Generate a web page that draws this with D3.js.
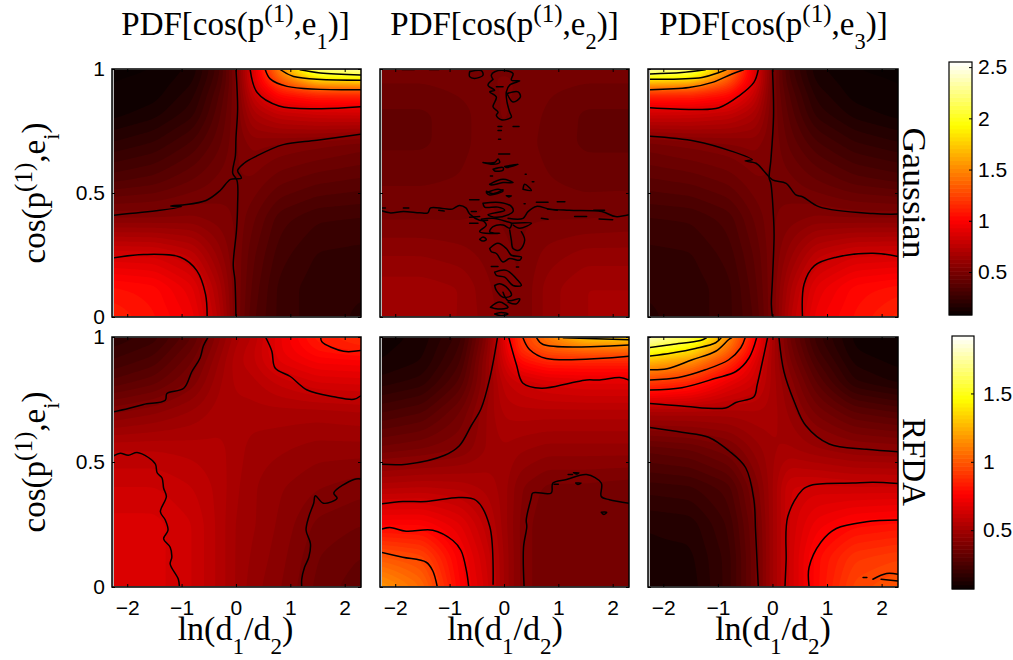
<!DOCTYPE html>
<html><head><meta charset="utf-8">
<script src="https://cdn.jsdelivr.net/npm/d3@7"></script>
<style>html,body{margin:0;padding:0;background:#fff}svg{display:block}</style>
</head><body><svg id="c" width="1013" height="660"></svg>
<script>
// ---- grid nodes of the estimated density fields
const xNodes = [-2.28,-1.5,-0.8,-0.3,0,0.3,0.8,1.5,2.3];
const yNodes = [0,0.12,0.25,0.4,0.55,0.7,0.82,0.9,0.95,1];
const xTicks = [-2,-1,0,1,2];
const yTicks = [0,0.5,1];
const topBarTicks = [0.5,1,1.5,2,2.5];
const bottomBarTicks = [0.5,1,1.5];
const topBarRange = [0.08,2.55];
const bottomBarRange = [0.07,1.92];
const columnSubscripts = ["1","2","3"];
const rowNames = ["Gaussian","RFDA"];

// ---- fields: one row per yNodes value, bottom to top
const fieldG1 = [
[1.12,1.05,.95,.72,.5,.36,.26,.21,.19],
[1.05,1.02,.9,.68,.5,.38,.26,.21,.2],
[.85,.84,.76,.6,.5,.4,.29,.23,.22],
[.54,.54,.55,.52,.5,.44,.33,.28,.27],
[.34,.37,.43,.48,.5,.5,.44,.4,.38],
[.2,.24,.32,.42,.5,.56,.54,.52,.49],
[.1,.14,.22,.38,.5,.68,.78,.82,.83],
[.08,.1,.18,.35,.5,.78,1.05,1.15,1.15],
[.08,.09,.15,.32,.5,.85,1.3,1.7,1.75],
[.07,.08,.13,.3,.52,.85,1.5,2.3,2.4]];
const fieldG2 = [
[.63,.63,.62,.56,.53,.5,.6,.66,.66],
[.64,.64,.62,.55,.52,.5,.6,.66,.66],
[.58,.58,.56,.53,.51,.5,.56,.6,.6],
[.5,.5,.5,.51,.5,.5,.5,.5,.51],
[.46,.46,.47,.5,.5,.5,.47,.45,.45],
[.42,.42,.45,.49,.5,.49,.45,.42,.42],
[.42,.42,.45,.49,.51,.49,.46,.42,.42],
[.45,.45,.47,.49,.51,.5,.47,.45,.45],
[.47,.47,.48,.5,.51,.5,.48,.47,.47],
[.48,.48,.49,.5,.5,.5,.49,.48,.48]];
const fieldG3 = [
[.19,.21,.26,.36,.5,.72,.95,1.05,1.14],
[.2,.21,.26,.38,.5,.68,.9,1.02,1.06],
[.22,.23,.29,.4,.5,.6,.76,.84,.85],
[.27,.28,.33,.44,.5,.52,.55,.54,.54],
[.38,.4,.44,.5,.5,.48,.43,.37,.34],
[.49,.52,.54,.56,.5,.42,.32,.24,.2],
[.83,.82,.78,.68,.5,.38,.22,.14,.1],
[1.15,1.15,1.05,.78,.5,.35,.18,.1,.08],
[1.75,1.7,1.3,.85,.5,.32,.15,.09,.08],
[2.4,2.3,1.5,.85,.52,.3,.13,.08,.07]];
const fieldR1 = [
[.65,.66,.62,.55,.5,.46,.42,.35,.31],
[.65,.66,.62,.55,.5,.47,.43,.36,.33],
[.66,.66,.62,.55,.5,.48,.44,.38,.36],
[.62,.62,.59,.55,.51,.48,.45,.42,.4],
[.56,.56,.55,.54,.52,.49,.48,.46,.46],
[.41,.44,.48,.52,.52,.52,.52,.52,.53],
[.28,.32,.4,.5,.54,.55,.6,.65,.66],
[.22,.26,.36,.48,.55,.58,.68,.74,.75],
[.19,.23,.33,.46,.54,.58,.7,.8,.84],
[.16,.2,.3,.44,.52,.56,.7,.84,.88]];
const fieldR2 = [
[1.18,1.05,.76,.63,.5,.41,.36,.36,.36],
[1.0,.95,.74,.61,.5,.41,.36,.36,.36],
[.76,.76,.68,.57,.49,.41,.36,.36,.36],
[.55,.56,.55,.52,.49,.42,.38,.38,.37],
[.37,.39,.42,.48,.5,.48,.46,.46,.46],
[.24,.27,.36,.48,.54,.55,.55,.55,.55],
[.14,.17,.28,.46,.58,.62,.66,.68,.68],
[.1,.13,.24,.46,.63,.78,.85,.85,.85],
[.09,.12,.22,.44,.66,.88,1.0,1.05,1.05],
[.08,.11,.2,.42,.68,.9,1.1,1.35,1.38]];
const fieldR3 = [
[.1,.11,.2,.36,.5,.62,.78,.95,1.0],
[.12,.12,.2,.36,.5,.62,.78,.9,.93],
[.13,.14,.22,.37,.5,.62,.72,.78,.8],
[.2,.21,.26,.4,.5,.62,.63,.62,.62],
[.31,.33,.38,.46,.5,.51,.48,.45,.44],
[.52,.52,.52,.53,.52,.47,.38,.3,.27],
[.93,.86,.7,.62,.52,.44,.3,.16,.12],
[1.25,1.15,.9,.66,.52,.4,.25,.12,.09],
[1.55,1.4,1.05,.72,.52,.38,.22,.1,.07],
[1.85,1.65,1.15,.75,.53,.36,.2,.09,.07]];

// ---- contour lines, as [ln(d1/d2), cos] pairs
const linesG1 = [
[[0,1],[.03,.84],[0,.72],[-.01,.65],[-.06,.58],[.02,.55],[.03,.45],[.01,.35],[-.05,.21],[-.02,.15],[0,0]],
[[-2.27,.41],[-1.4,.43],[-1,.445],[-1.2,.448],[-.98,.452],[-.55,.47],[-.29,.51],[-.1,.555],[.1,.56],[.03,.59],[.15,.62],[.37,.648],[.87,.695],[1.49,.713],[2.29,.737]],
[[-2.27,.238],[-1.7,.252],[-1.02,.241],[-.72,.187],[-.56,.092],[-.53,0]],
[[.26,1],[.39,.905],[.79,.851],[1.55,.84],[2.29,.848]],
[[.54,.997],[.63,.96],[.94,.93],[2.29,.916]],
[[.82,.997],[1.06,.97],[2.29,.955]],
[[1.18,.997],[1.55,.984],[2.29,.976]]];
const linesG2 = [
[[-2.27,.43],[-2.1,.42],[-1.85,.425],[-1.55,.42],[-1.4,.42],[-1.35,.44],[-1.1,.437],[-.95,.435],[-.82,.45],[-.7,.44],[-.63,.415],[-.45,.39],[-.3,.39]],
[[.075,.398],[.351,.398],[.443,.425],[.596,.446],[.842,.435],[1.2,.43],[1.8,.425],[2.05,.405],[2.3,.412]],
[[-2.25,.44],[-2.18,.44]],[[-1.85,.44],[-1.75,.44]],[[-1.2,.43],[-1.1,.427]],[[.98,.465],[1.12,.465]],[[.8,.435],[.98,.43]],[[1.65,.43],[1.85,.43]],[[1.3,.405],[1.52,.405]],[[1.75,.395],[2,.392]],
[[-1.87,.998],[-1.65,.998]],[[-1.37,.998],[-1.2,.998]],[[-.63,.998],[-.42,.998]],
// lower half of the central band
[[-.324,.507],[-.2,.497],[-.017,.513]],
[[.044,.489],[.136,.489],[.09,.484],[.044,.489]],
[[-.631,.473],[-.459,.473]],[[.596,.463],[.811,.463]],[[.37,.457],[.39,.457]],
[[-.386,.459],[-.079,.462],[.136,.446],[.167,.425],[.075,.412],[-.14,.402],[-.294,.412],[.013,.43],[-.11,.443],[-.355,.443],[-.386,.459]],
[[-.6,.425],[-.508,.425]],[[-.631,.402],[-.447,.405]],[[-.631,.378],[-.478,.378]],
[[-.416,.394],[-.201,.398],[.044,.385],[.136,.378],[.105,.358],[-.017,.371],[-.201,.364],[-.263,.344],[-.079,.337],[-.447,.344],[-.324,.371],[-.416,.394]],
[[.688,.398],[.81,.394]],
[[.136,.378],[.504,.378],[.289,.358],[.167,.371]],
[[.105,.351],[.136,.31],[.167,.276],[.289,.27],[.381,.31],[.32,.344]],
[[-.447,.313],[-.386,.323],[-.324,.313],[-.386,.306],[-.447,.313]],
[[-.263,.276],[-.11,.297],[.044,.276],[.136,.249],[.32,.242],[.289,.229],[.105,.236],[-.017,.222],[-.14,.256],[-.232,.263],[-.263,.276]],
[[-.232,.204],[-.11,.204]],[[.228,.202],[.27,.202]],
[[-.171,.181],[.044,.188],[.259,.147],[.32,.127],[.167,.127],[.013,.161],[-.14,.168],[-.171,.181]],
[[-.171,.127],[-.079,.134],[.075,.114],[.136,.087],[-.017,.08],[-.14,.107],[-.171,.127]],
[[-.017,.1],[.075,.066],[.29,.073],[.228,.053],[.075,.06]],
[[-.25,.039],[-.079,.06],[.075,.039],[-.11,.032],[-.25,.039]],
[[-.171,.012],[-.05,.018],[.075,.012],[-.05,.005],[-.171,.012]],
// upper half of the central band
[[-.631,.989],[-.416,.993],[-.386,.975],[-.539,.962],[-.631,.969],[-.631,.989]],
[[-.201,.958],[-.232,.975],[-.17,.989],[.044,.993],[.167,.982],[.136,.955],[.29,.952],[.105,.935],[.044,.908],[.056,.867],[.105,.826],[.136,.806],[-.048,.795],[-.14,.813],[-.109,.826],[-.201,.847],[-.14,.887],[-.263,.908],[-.171,.914],[-.294,.935],[-.201,.958]],
[[-.14,.928],[-.017,.928]],
[[.056,.901],[.259,.908],[.302,.887],[.167,.867],[.056,.901]],
[[-.11,.768],[-.04,.768]],[[.167,.768],[.277,.768]],[[-.11,.752],[-.048,.752]],[[-.1,.717],[-.06,.717]],[[-.097,.657],[.105,.657]],
[[-.386,.623],[-.171,.623],[-.109,.637],[-.079,.623],[-.2,.616],[-.386,.623]],
[[-.2,.596],[-.017,.603],[-.017,.592],[-.171,.589],[-.2,.596]],
[[.013,.607],[.259,.616],[.044,.603],[.013,.607]],
[[-.25,.569],[-.21,.569]],[[.39,.576],[.41,.576]],[[.52,.545],[.55,.545]],
[[-.263,.535],[-.017,.555],[.167,.542],[-.017,.542],[-.232,.532],[-.263,.535]],
[[.35,.515],[.381,.535],[.504,.51],[.35,.515]],
[[-.324,.501],[-.109,.515],[-.017,.508],[-.263,.492],[-.324,.501]]];
const linesG3 = [
[[0,1],[.02,.81],[-.03,.63],[-.06,.56],[-.03,.54],[.02,.4],[.03,.33],[0,.15],[-.02,.05],[0,0]],
[[-2.27,.729],[-1.41,.709],[-.74,.668],[-.37,.634],[-.5,.63],[-.3,.62],[-.15,.587],[0,.553],[.25,.539],[.43,.492],[.55,.485],[.86,.444],[1.84,.417],[2.3,.415]],
[[.55,0],[.58,.133],[.77,.207],[1.17,.241],[1.84,.257],[2.3,.244]],
[[-2.27,.844],[-1.41,.837],[-.98,.844],[-.61,.892],[-.34,.946],[-.26,.997]],
[[-2.27,.916],[-1.53,.925],[-1.1,.946],[-.74,.98],[-.53,.997]],
[[-2.27,.959],[-1.29,.966],[-.98,.986],[-.85,.997]],
[[-2.27,.98],[-1.66,.986],[-1.23,.997]]];
const linesR1 = [
[[-2.27,.7],[-1.98,.714],[-1.7,.73],[-1.3,.747],[-1.27,.774],[-.96,.795],[-.81,.862],[-.66,.916],[-.6,.964],[-.52,.997]],
[[-2.27,.522],[-2.13,.535],[-1.98,.527],[-1.82,.538],[-1.61,.518],[-1.48,.491],[-1.45,.457],[-1.36,.436],[-1.33,.395],[-1.28,.362],[-1.39,.301],[-1.3,.268],[-1.25,.227],[-1.33,.193],[-1.21,.159],[-1.18,.119],[-1.21,.092],[-1.06,.031],[-1.04,0]],
[[1.21,0],[1.21,.031],[1.26,.078],[1.34,.119],[1.37,.173],[1.29,.227],[1.34,.281],[1.43,.335],[1.46,.365],[1.61,.335],[1.86,.355],[1.8,.376],[2.17,.43],[2.29,.432]],
[[.55,.997],[.66,.943],[.72,.876],[1,.842],[1.31,.788],[1.8,.761],[2.17,.751],[2.29,.764]],
[[1.56,.997],[1.58,.981],[1.98,.943],[2.29,.946]]];
const linesR2 = [
[[-2.27,.491],[-1.79,.491],[-1.09,.527],[-.82,.565],[-.6,.646],[-.42,.714],[-.26,.835],[-.12,.997]],
[[-2.27,.332],[-1.86,.342],[-1.43,.342],[-.82,.358],[-.51,.346],[-.26,.241],[-.2,.011]],
[[-2.27,.23],[-2.1,.238],[-1.8,.223],[-1.31,.227],[-.94,.186],[-.79,.146],[-.69,.065],[-.65,.004]],
[[-2.27,.139],[-1.86,.119],[-1.43,.099],[-1.31,.065],[-1.23,.004]],
[[.37,.004],[.36,.159],[.42,.241],[.41,.268],[.5,.355],[.53,.376],[.87,.376],[.9,.416],[1.15,.43],[1.52,.45],[1.79,.416],[1.79,.362],[1.94,.349],[2.3,.335]],
[[1.28,.457],[1.38,.457],[1.33,.452],[1.28,.457]],[[1.18,.45],[1.26,.45]],[[1.32,.416],[1.42,.416],[1.36,.41],[1.32,.416]],[[.92,.411],[1,.411]],[[1.79,.299],[1.89,.299],[1.84,.29],[1.79,.299]],
[[.09,.997],[.23,.889],[.35,.815],[.69,.795],[1.21,.815],[1.52,.828],[1.76,.828],[2.13,.838],[2.3,.828]],
[[.35,.997],[.47,.95],[.78,.914],[2.3,.923]],
[[.6,.997],[.72,.97],[2.3,.968]],
[[1.09,.997],[2.3,.989]]];
const linesR3 = [
[[-2.27,.639],[-1.66,.619],[-1.17,.599],[-.8,.545],[-.49,.477],[-.34,.349],[-.31,.227],[-.26,.004]],
[[.12,.997],[.21,.862],[.4,.741],[.61,.646],[1.04,.572],[1.72,.551],[2.3,.541]],
[[.23,.004],[.25,.105],[.28,.281],[.55,.389],[.74,.409],[1.47,.416],[1.84,.419],[2.3,.414]],
[[.67,.004],[.67,.078],[.89,.18],[1.17,.234],[1.72,.261],[2.3,.268]],
[[1.84,.031],[2.09,.054],[2.3,.051]],[[1.66,.038],[1.73,.038]],[[1.99,.031],[2.3,.024]],
[[-2.27,.734],[-1.66,.724],[-.86,.716],[-.67,.738],[-.34,.761],[-.28,.808],[-.09,.997]],
[[-2.27,.788],[-1.66,.797],[-1.04,.835],[-.67,.862],[-.43,.916],[-.29,.997]],
[[-2.27,.828],[-1.72,.838],[-1.23,.869],[-.8,.909],[-.58,.957],[-.5,.997]],
[[-2.27,.869],[-1.93,.873],[-1.47,.909],[-1.04,.943],[-.8,.99],[-.75,.997]],
[[-2.27,.923],[-1.84,.936],[-1.41,.954],[-1.04,.977],[-.94,.997]],
[[-2.27,.957],[-1.84,.97],[-1.32,.986],[-1.21,.997]]];

// ---- layout
const colX = [[112,361],[380,629],[648,898]];
const rowY = [[69,317],[337,587]];
const serif = "'Liberation Serif','DejaVu Serif',serif";
const sans = "'Liberation Sans',Arial,sans-serif";
const svg = d3.select("#c");

const hotScale = d3.scaleLinear().domain([0,.375,.75,1]).range(["#0a0000","#ff0000","#ffff00","#ffffff"]).clamp(true);
const hot = t => hotScale(t);
const bilerp = (field,x,y)=>{
  const bx=d3.bisectRight(xNodes,x), by=d3.bisectRight(yNodes,y);
  const i=Math.min(Math.max(bx-1,0),xNodes.length-2), j=Math.min(Math.max(by-1,0),yNodes.length-2);
  const u=Math.max(0,Math.min(1,(x-xNodes[i])/(xNodes[i+1]-xNodes[i])));
  const v=Math.max(0,Math.min(1,(y-yNodes[j])/(yNodes[j+1]-yNodes[j])));
  return (field[j][i]*(1-u)+field[j][i+1]*u)*(1-v)+(field[j+1][i]*(1-u)+field[j+1][i+1]*u)*v;
};

// text with raised / lowered pieces
function mathText(sel, parts, size){
  let prev=0;
  parts.forEach(([s,k])=>{
    const off = k==="sup"?-13:k==="sub"?14:0;
    sel.append("tspan").text(s).attr("dy",(off-prev)).attr("font-size",k==="sup"?size*0.76:k==="sub"?size*0.68:size);
    prev=off;
  });
}
const cosLabel = sub => [["cos(p"],["(1)","sup"],[",e"],[sub,"sub"],[")"]];

function panel(c,r,field,lines,range){
  const [x0,x1]=colX[c],[y0,y1]=rowY[r];
  const x=d3.scaleLinear().domain([-2.28,2.3]).range([x0,x1]);
  const y=d3.scaleLinear().domain([0,1]).range([y1,y0]);
  const g=svg.append("g");
  const id=`clip${c}${r}`;
  g.append("clipPath").attr("id",id).append("rect").attr("x",x0+2).attr("y",y0+1).attr("width",x1-x0-2).attr("height",y1-y0-2);
  g.append("rect").attr("x",x0).attr("y",y0).attr("width",x1-x0).attr("height",y1-y0).attr("fill","#b9b9b9");
  const n=166, sx=d3.scaleLinear().domain([0,n-1]).range([-2.28,2.3]), sy=d3.scaleLinear().domain([0,n-1]).range([1,0]);
  let vals=new Float64Array(n*n);
  for(let j=0;j<n;j++)for(let i=0;i<n;i++)vals[j*n+i]=bilerp(field,sx(i),sy(j));
  const img={data:vals,width:n,height:n};
  d3.blur2(img,2.2);
  const steps=64, color=d3.scaleLinear().domain(range).range([0,1]);
  const th=d3.range(steps).map(k=>range[0]+(range[1]-range[0])*k/steps);
  const cs=d3.contours().size([n,n]).thresholds(th)(Array.from(vals));
  const bands=g.append("g").attr("clip-path",`url(#${id})`);
  bands.append("rect").attr("x",x0).attr("y",y0).attr("width",x1-x0).attr("height",y1-y0).attr("fill",hot(0));
  const inner=bands.append("g").attr("transform",`translate(${x(-2.28)},${y(1)}) scale(${(x1-x0)/(n-1)},${(y1-y0)/(n-1)}) translate(-0.5,-0.5)`);
  inner.selectAll("path").data(cs).join("path").attr("d",d3.geoPath()).attr("fill",d=>hot(color(d.value)+0.5/steps));
  const line=d3.line().x(d=>x(d[0])).y(d=>y(d[1])).curve(d3.curveCatmullRom.alpha(0.5));
  bands.selectAll("path.cl").data(lines).join("path").attr("class","cl").attr("d",line).attr("fill","none").attr("stroke","#000").attr("stroke-width",1.5).attr("stroke-linejoin","round").attr("stroke-linecap","round");
  // frame and inward ticks
  g.append("rect").attr("x",x0).attr("y",y0).attr("width",x1-x0).attr("height",y1-y0).attr("fill","none").attr("stroke","#000").attr("stroke-width",1.5);
  const ax=g.append("g").attr("transform",`translate(0,${y1})`).call(d3.axisBottom(x).tickValues(xTicks).tickSize(-3).tickPadding(13).tickFormat(d3.format("~g")));
  const axT=g.append("g").attr("transform",`translate(0,${y0})`).call(d3.axisTop(x).tickValues(xTicks).tickSize(-3).tickFormat(""));
  const ay=g.append("g").attr("transform",`translate(${x0},0)`).call(d3.axisLeft(y).tickValues(yTicks).tickSize(-3).tickPadding(7).tickFormat(d3.format("~g")));
  const ayR=g.append("g").attr("transform",`translate(${x1},0)`).call(d3.axisRight(y).tickValues(yTicks).tickSize(-3).tickFormat(""));
  [ax,axT,ay,ayR].forEach(a=>{a.select(".domain").remove();a.selectAll("line").attr("stroke","#000").attr("stroke-width",1);a.selectAll("text").attr("font-family",sans).attr("font-size",21).attr("fill","#000");});
  if(r===0) ax.selectAll("text").remove();
  if(c>0) ay.selectAll("text").remove();
}

const fields=[[fieldG1,fieldG2,fieldG3],[fieldR1,fieldR2,fieldR3]];
const lineSets=[[linesG1,linesG2,linesG3],[linesR1,linesR2,linesR3]];
const ranges=[topBarRange,bottomBarRange];
rowY.forEach((_,r)=>colX.forEach((_,c)=>panel(c,r,fields[r][c],lineSets[r][c],ranges[r])));

// colour bars
function bar(x0,x1,y0,y1,range,ticks,pad){
  const y=d3.scaleLinear().domain(range).range([y1,y0]);
  const g=svg.append("g");
  const levels=d3.range(64);
  g.selectAll("rect").data(levels).join("rect")
    .attr("x",x0).attr("width",x1-x0)
    .attr("y",k=>y(range[0]+(range[1]-range[0])*(k+1)/64)-0.3)
    .attr("height",k=>y(range[0]+(range[1]-range[0])*k/64)-y(range[0]+(range[1]-range[0])*(k+1)/64)+0.6)
    .attr("fill",k=>hot((k+.5)/64));
  g.append("rect").attr("x",x0).attr("y",y0).attr("width",x1-x0).attr("height",y1-y0).attr("fill","none").attr("stroke","#000").attr("stroke-width",1.2);
  const a=g.append("g").attr("transform",`translate(${x1},0)`).call(d3.axisRight(y).tickValues(ticks).tickSize(-3).tickPadding(pad).tickFormat(d3.format("~g")));
  a.select(".domain").remove();
  a.selectAll("line").attr("stroke","#000");
  a.selectAll("text").attr("font-family",sans).attr("font-size",21).attr("fill","#000");
}
bar(949,972,62,315,topBarRange,topBarTicks,6);
bar(952,974,336,589,bottomBarRange,bottomBarTicks,9);

// titles, axis labels, row names
const titleSize=33;
const xLabelSize=34;
const titleMid=[235.5,504.5,773.5];
const labelMid=[235.5,505,773];
colX.forEach((_,c)=>{
  const t=svg.append("text").attr("x",titleMid[c]).attr("y",35).attr("text-anchor","middle").attr("font-family",serif).attr("fill","#000");
  mathText(t,[["PDF["],...cosLabel(columnSubscripts[c]),["]"]],titleSize);
  const l=svg.append("text").attr("x",labelMid[c]).attr("y",640).attr("text-anchor","middle").attr("font-family",serif).attr("fill","#000");
  mathText(l,[["ln(d"],["1","sub"],["/d"],["2","sub"],[")"]],xLabelSize);
});
const labelCentres=[193,462];
rowY.forEach((_,r)=>{
  const t=svg.append("text").attr("transform",`translate(45,${labelCentres[r]}) rotate(-90)`).attr("text-anchor","middle").attr("font-family",serif).attr("fill","#000");
  mathText(t,cosLabel("i"),titleSize);
  const n=svg.append("text").attr("transform",`translate(903,${labelCentres[r]}) rotate(90)`).attr("text-anchor","middle").attr("font-family",serif).attr("font-size",33).attr("fill","#000").text(rowNames[r]);
  if(r===0) n.attr("textLength",131).attr("lengthAdjust","spacingAndGlyphs");
});
</script></body></html>
